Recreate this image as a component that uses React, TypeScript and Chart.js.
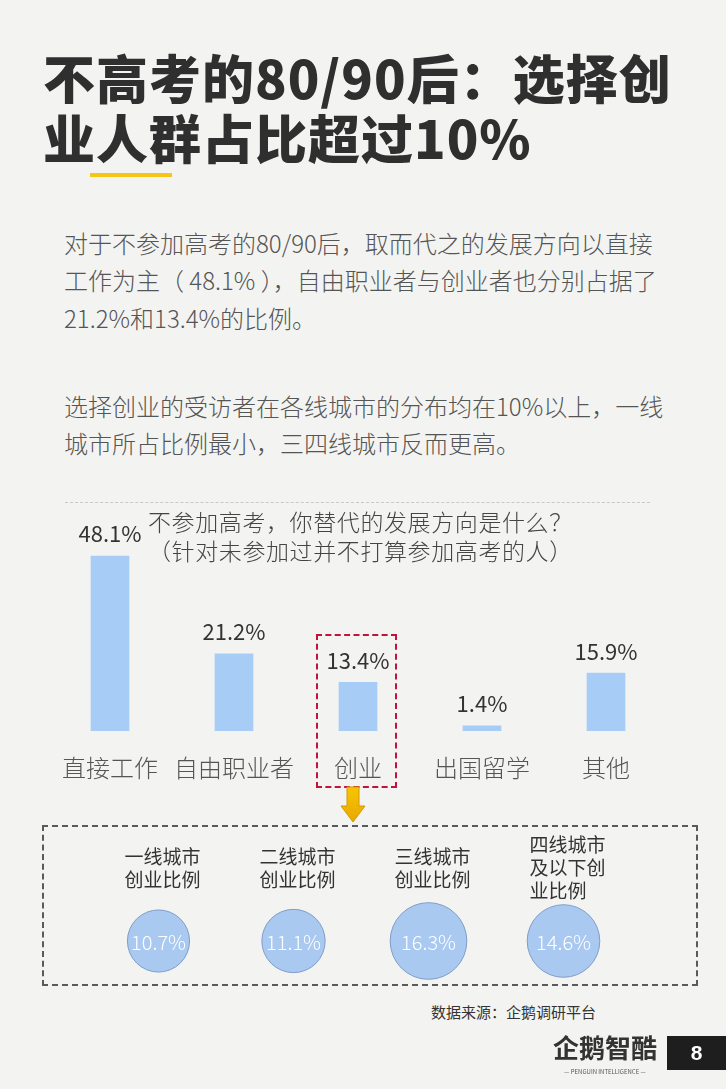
import React, { useEffect, useRef } from "react";
import { Chart, registerables } from "chart.js";

Chart.register(...registerables);

const FONT = '"Noto Sans CJK SC", "Noto Sans", sans-serif';

const titleLines = ["不高考的80/90后：选择创", "业人群占比超过10%"];
const paragraphLines = [
  "对于不参加高考的80/90后，取而代之的发展方向以直接",
  "工作为主（ 48.1% ），自由职业者与创业者也分别占据了",
  "21.2%和13.4%的比例。",
  "",
  "选择创业的受访者在各线城市的分布均在10%以上，一线",
  "城市所占比例最小，三四线城市反而更高。",
];
const chartTitle = ["不参加高考，你替代的发展方向是什么？", "（针对未参加过并不打算参加高考的人）"];

const categories = ["直接工作", "自由职业者", "创业", "出国留学", "其他"];
const shares = [48.1, 21.2, 13.4, 1.4, 15.9];

const cityLabels = [
  ["一线城市", "创业比例"],
  ["二线城市", "创业比例"],
  ["三线城市", "创业比例"],
  ["四线城市", "及以下创", "业比例"],
];
const cityShares = [10.7, 11.1, 16.3, 14.6];

const sourceText = "数据来源：企鹅调研平台";
const pageNumber = "8";

function BarChart() {
  const ref = useRef<HTMLCanvasElement>(null);
  useEffect(() => {
    const valueLabels = {
      id: "valueLabels",
      afterDatasetsDraw(chart: any) {
        const ctx = chart.ctx;
        const meta = chart.getDatasetMeta(0);
        ctx.save();
        ctx.font = `400 22px ${FONT}`;
        ctx.fillStyle = "#333333";
        ctx.textAlign = "center";
        ctx.textBaseline = "middle";
        meta.data.forEach((el: any, i: number) => {
          ctx.fillText(shares[i].toFixed(1) + "%", el.x, el.y - 22);
        });
        ctx.restore();
      },
    };
    const chart = new Chart(ref.current!, {
      type: "bar",
      data: {
        labels: categories,
        datasets: [
          {
            data: shares,
            backgroundColor: "#a7cdf6",
            borderWidth: 0,
            barThickness: 38,
          },
        ],
      },
      options: {
        animation: false,
        responsive: false,
        maintainAspectRatio: false,
        layout: { padding: { top: 35, left: 0, right: 0, bottom: 0 } },
        plugins: { legend: { display: false }, tooltip: { enabled: false } },
        scales: {
          x: {
            grid: { display: false, drawTicks: false },
            border: { display: false },
            afterFit(scale: any) {
              scale.height = 53;
              scale.paddingLeft = 0;
              scale.paddingRight = 0;
            },
            ticks: {
              padding: 22,
              maxRotation: 0,
              minRotation: 0,
              autoSkip: false,
              color: "#555555",
              font: { family: FONT, size: 24, weight: 300 },
            },
          },
          y: { display: false, min: 0, max: 52.5 },
        },
      },
      plugins: [valueLabels],
    });
    return () => chart.destroy();
  }, []);
  return (
    <canvas
      ref={ref}
      width={620}
      height={279}
      style={{ position: "absolute", left: 48, top: 505, width: 620, height: 279 }}
    />
  );
}

function BubbleChart() {
  const ref = useRef<HTMLCanvasElement>(null);
  useEffect(() => {
    const labelsPlugin = {
      id: "bubbleLabels",
      afterDatasetsDraw(chart: any) {
        const ctx = chart.ctx;
        const meta = chart.getDatasetMeta(0);
        ctx.save();
        meta.data.forEach((el: any, i: number) => {
          ctx.font = `300 20px ${FONT}`;
          ctx.fillStyle = "#ffffff";
          ctx.textAlign = "center";
          ctx.textBaseline = "middle";
          ctx.fillText(cityShares[i].toFixed(1) + "%", el.x, el.y + 1);
          const lines = cityLabels[i];
          ctx.font = `400 19px ${FONT}`;
          ctx.fillStyle = "#333333";
          ctx.textAlign = "left";
          const lh = 23;
          const maxW = Math.max(...lines.map((l) => ctx.measureText(l).width));
          const startX = el.x + 4 - maxW / 2;
          const startY = 43 - ((lines.length - 1) * lh) / 2;
          lines.forEach((l, j) => ctx.fillText(l, startX, startY + j * lh));
        });
        ctx.restore();
      },
    };
    const chart = new Chart(ref.current!, {
      type: "bubble",
      data: {
        datasets: [
          {
            data: cityShares.map((v, i) => ({ x: i, y: 0, r: 9.5 * Math.sqrt(v) })),
            backgroundColor: "#a9c9f1",
            borderColor: "#7f9cc8",
            borderWidth: 1,
            clip: false,
          },
        ],
      },
      options: {
        animation: false,
        responsive: false,
        maintainAspectRatio: false,
        layout: { padding: { top: 71, left: 49, right: 67, bottom: 45 } },
        plugins: { legend: { display: false }, tooltip: { enabled: false } },
        scales: {
          x: { display: false, min: -0.5, max: 3.5 },
          y: { display: false, min: -1, max: 1 },
        },
      },
      plugins: [labelsPlugin],
    });
    return () => chart.destroy();
  }, []);
  return (
    <canvas
      ref={ref}
      width={656}
      height={206}
      style={{ position: "absolute", left: 42, top: 825, width: 656, height: 206 }}
    />
  );
}

export default function App() {
  const paraTops = [224, 261, 299, 0, 387, 424];
  return (
    <div
      style={{
        position: "absolute",
        left: 0,
        top: 0,
        width: 726,
        height: 1089,
        background: "#f3f4f2",
        overflow: "hidden",
        fontFamily: FONT,
      }}
    >
      {titleLines.map((t, i) => (
        <div
          key={i}
          style={{
            position: "absolute",
            left: 43,
            top: 46 + i * 60,
            fontSize: 52,
            lineHeight: "62px",
            fontWeight: 900,
            color: "#2f2f2f",
            whiteSpace: "nowrap",
            letterSpacing: 1,
          }}
        >
          {t}
        </div>
      ))}
      <div style={{ position: "absolute", left: 90, top: 173, width: 82, height: 4, background: "#f5c518" }} />

      {paragraphLines.map((t, i) =>
        t ? (
          <div
            key={i}
            style={{
              position: "absolute",
              left: 64,
              top: paraTops[i],
              fontSize: 24,
              lineHeight: "37px",
              fontWeight: 300,
              color: "#555555",
              whiteSpace: "nowrap",
            }}
          >
            {t}
          </div>
        ) : null
      )}

      <div style={{ position: "absolute", left: 65, top: 502, width: 585, borderTop: "1px dashed #c8c8c8" }} />

      <BarChart />

      {chartTitle.map((t, i) => (
        <div
          key={i}
          style={{
            position: "absolute",
            left: 148,
            top: 507 + i * 29,
            fontSize: 23,
            lineHeight: "29px",
            fontWeight: 300,
            color: "#444444",
            whiteSpace: "nowrap",
            letterSpacing: 0.6,
          }}
        >
          {t}
        </div>
      ))}

      <div
        style={{
          position: "absolute",
          left: 316,
          top: 634,
          width: 77,
          height: 150,
          border: "2px dashed #c0143c",
        }}
      />

      <svg style={{ position: "absolute", left: 338, top: 786 }} width={30} height={38}>
        <defs>
          <linearGradient id="ag" x1="0" y1="0" x2="0" y2="1">
            <stop offset="0" stopColor="#f7c600" />
            <stop offset="1" stopColor="#e8a800" />
          </linearGradient>
        </defs>
        <polygon
          points="9,1 21,1 21,20 27,20 15,36 3,20 9,20"
          fill="url(#ag)"
          stroke="#d49a00"
          strokeWidth={1}
        />
      </svg>

      <div
        style={{
          position: "absolute",
          left: 42,
          top: 825,
          width: 652,
          height: 157,
          border: "2px dashed #5a5a5a",
        }}
      />

      <div
        style={{
          position: "absolute",
          left: 431,
          top: 1001,
          fontSize: 15,
          lineHeight: "22px",
          color: "#333333",
          whiteSpace: "nowrap",
        }}
      >
        {sourceText}
      </div>

      <BubbleChart />

      <div
        style={{
          position: "absolute",
          left: 553,
          top: 1030,
          fontSize: 26,
          lineHeight: "34px",
          fontWeight: 700,
          color: "#333333",
          whiteSpace: "nowrap",
        }}
      >
        企鹅智酷
      </div>
      <div
        style={{
          position: "absolute",
          left: 553,
          top: 1068,
          width: 104,
          fontSize: 6,
          lineHeight: "8px",
          color: "#555555",
          textAlign: "center",
          whiteSpace: "nowrap",
        }}
      >
        — PENGUIN INTELLIGENCE —
      </div>

      <div
        style={{
          position: "absolute",
          left: 667,
          top: 1036,
          width: 59,
          height: 34,
          background: "#1e1e1e",
          color: "#ffffff",
          fontSize: 21,
          fontWeight: 700,
          lineHeight: "34px",
          textAlign: "center",
          fontFamily: '"Liberation Sans", Arial, sans-serif',
        }}
      >
        {pageNumber}
      </div>
    </div>
  );
}
